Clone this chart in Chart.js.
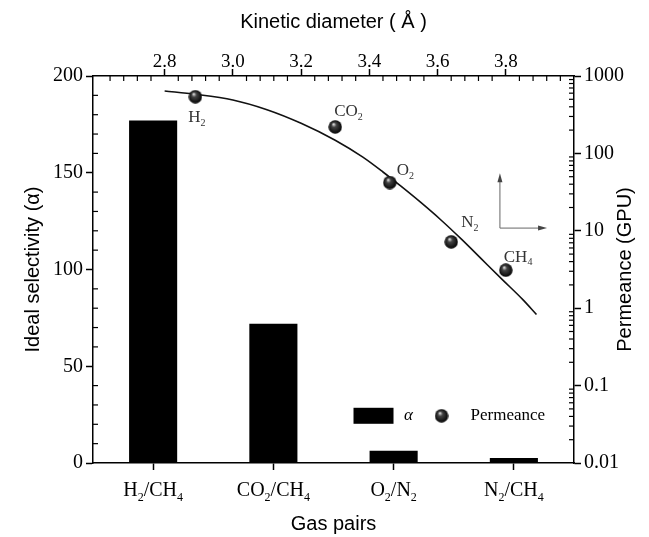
<!DOCTYPE html>
<html>
<head>
<meta charset="utf-8">
<script src="https://cdn.jsdelivr.net/npm/chart.js@4.4.1/dist/chart.umd.min.js"></script>
<style>
  html, body { margin: 0; padding: 0; background: #fff; }
</style>
</head>
<body>
<canvas id="chart" width="649" height="537"></canvas>
<script>
// bars: ideal selectivity per gas pair ("_2" = subscript 2)
const gasPairs = ["H_2/CH_4", "CO_2/CH_4", "O_2/N_2", "N_2/CH_4"];
const selectivity = [177, 72, 6.3, 2.6];

// spheres: permeance vs kinetic diameter
const gases = ["H_2", "CO_2", "O_2", "N_2", "CH_4"];
const kineticDiameter = [2.89, 3.30, 3.46, 3.64, 3.80];
const permeance = [540, 220, 42, 7.2, 3.1];

// trend line
const fitDiameter = [2.80, 2.89, 3.00, 3.10, 3.20, 3.30, 3.38, 3.44, 3.49, 3.55, 3.61, 3.67, 3.73, 3.79, 3.85, 3.89];
const fitPermeance = [640, 581, 490, 367, 245, 148, 90, 57.5, 38.5, 23.4, 13.8, 7.8, 4.27, 2.34, 1.29, 0.83];

const selectivityTicks = [0, 50, 100, 150, 200];
const diameterTicks = [2.8, 3.0, 3.2, 3.4, 3.6, 3.8];
const permeanceTicks = [0.01, 0.1, 1, 10, 100, 1000];

const serif = "Liberation Serif";
const sans = "Liberation Sans";
const tickFont = { family: serif, size: 20 };
const titleFont = { family: sans, size: 20 };

// label offsets around each sphere (px)
const labelOffsets = [[-7, 21], [-1, -15], [7, -12], [10, -19], [-2, -13]];

function makeSphere(r) {
  const c = document.createElement("canvas");
  c.width = c.height = r * 2;
  const g = c.getContext("2d");
  const grad = g.createRadialGradient(r * 0.75, r * 0.6, r * 0.05, r, r, r);
  grad.addColorStop(0, "#e0e0e0");
  grad.addColorStop(0.3, "#444");
  grad.addColorStop(1, "#000");
  g.fillStyle = grad;
  g.beginPath();
  g.arc(r, r, r - 0.3, 0, Math.PI * 2);
  g.fill();
  return c;
}
const sphere = makeSphere(7);

// text with "_x" subscripts
function drawChem(ctx, text, x, y, size, align) {
  const parts = [];
  for (let i = 0; i < text.length; i++) {
    if (text[i] === "_") {
      parts.push({ t: text[i + 1], sub: true });
      i++;
    } else {
      parts.push({ t: text[i], sub: false });
    }
  }
  const subSize = Math.round(size * 0.58);
  const fontOf = (p) => `${p.sub ? subSize : size}px "${serif}"`;
  let total = 0;
  parts.forEach((p) => {
    ctx.font = fontOf(p);
    total += ctx.measureText(p.t).width;
  });
  let cx = align === "center" ? x - total / 2 : x;
  ctx.textAlign = "left";
  ctx.textBaseline = "middle";
  parts.forEach((p) => {
    ctx.font = fontOf(p);
    ctx.fillText(p.t, cx, p.sub ? y + size * 0.32 : y);
    cx += ctx.measureText(p.t).width;
  });
}

function seg(ctx, x1, y1, x2, y2) {
  ctx.beginPath();
  ctx.moveTo(x1, y1);
  ctx.lineTo(x2, y2);
  ctx.stroke();
}

const extras = {
  id: "extras",
  afterDraw(chart) {
    const { ctx, chartArea: a, scales } = chart;
    ctx.save();

    // minor ticks, pointing inward
    ctx.strokeStyle = "#000";
    ctx.lineWidth = 1.2;
    const len = 5;
    for (let v = 10; v < 200; v += 10) {
      if (v % 50 === 0) continue;
      const y = scales.y.getPixelForValue(v);
      seg(ctx, a.left, y, a.left + len, y);
    }
    for (let k = 65; k <= 100; k++) {
      const v = k / 25;
      if (k % 5 === 0 || v < scales.x2.min || v > scales.x2.max) continue;
      const x = scales.x2.getPixelForValue(v);
      seg(ctx, x, a.top, x, a.top + len);
    }
    permeanceTicks.slice(0, -1).forEach((d) => {
      for (let m = 2; m <= 9; m++) {
        const y = scales.y2.getPixelForValue(d * m);
        seg(ctx, a.right, y, a.right - len, y);
      }
    });

    // category labels
    ctx.fillStyle = "#000";
    gasPairs.forEach((g, i) => {
      drawChem(ctx, g, scales.x.getPixelForValue(i), a.bottom + 28, 20, "center");
    });

    // right axis title
    ctx.save();
    ctx.translate(chart.width - 24, (a.top + a.bottom) / 2);
    ctx.rotate(-Math.PI / 2);
    ctx.font = `20px "${sans}"`;
    ctx.textAlign = "center";
    ctx.textBaseline = "middle";
    ctx.fillText("Permeance (GPU)", 0, 0);
    ctx.restore();

    // sphere labels
    ctx.fillStyle = "#333";
    gases.forEach((g, i) => {
      const x = scales.x2.getPixelForValue(kineticDiameter[i]);
      const y = scales.y2.getPixelForValue(permeance[i]);
      drawChem(ctx, g, x + labelOffsets[i][0], y + labelOffsets[i][1], 17, "left");
    });

    // axis-direction arrows
    const w = a.right - a.left, h = a.bottom - a.top;
    const ox = a.left + w * 0.846, oy = a.top + h * 0.393;
    const ty = a.top + h * 0.251, rx = a.left + w * 0.944;
    ctx.strokeStyle = "#666";
    ctx.fillStyle = "#444";
    ctx.lineWidth = 1;
    seg(ctx, ox, oy, ox, ty + 4);
    seg(ctx, ox, oy, rx - 4, oy);
    ctx.beginPath();
    ctx.moveTo(ox, ty); ctx.lineTo(ox - 2.5, ty + 9); ctx.lineTo(ox + 2.5, ty + 9);
    ctx.fill();
    ctx.beginPath();
    ctx.moveTo(rx, oy); ctx.lineTo(rx - 9, oy - 2.5); ctx.lineTo(rx - 9, oy + 2.5);
    ctx.fill();

    // legend
    const ly = a.top + h * 0.878;
    const lx = a.left + w * 0.5416;
    ctx.fillStyle = "#000";
    ctx.fillRect(lx, ly - 8, 40, 16);
    ctx.font = `italic 17px "${serif}"`;
    ctx.textAlign = "center";
    ctx.textBaseline = "middle";
    ctx.fillText("α", lx + 55, ly);
    ctx.drawImage(sphere, lx + 88 - 7, ly - 7);
    ctx.font = `17px "${serif}"`;
    ctx.textAlign = "left";
    ctx.fillText("Permeance", lx + 117, ly);

    ctx.restore();
  },
};

const axisGrid = { drawOnChartArea: false, tickLength: 7, tickColor: "#000", tickWidth: 1.5 };
const axisBorder = { color: "#000", width: 1.5 };

new Chart(document.getElementById("chart"), {
  data: {
    labels: gasPairs,
    datasets: [
      {
        type: "bar",
        label: "α",
        data: selectivity,
        backgroundColor: "#000",
        xAxisID: "x",
        yAxisID: "y",
        grouped: false,
        barPercentage: 0.4,
        categoryPercentage: 1,
        order: 3,
      },
      {
        type: "line",
        label: "fit",
        data: fitDiameter.map((d, i) => ({ x: d, y: fitPermeance[i] })),
        xAxisID: "x2",
        yAxisID: "y2",
        borderColor: "#111",
        borderWidth: 1.6,
        pointRadius: 0,
        cubicInterpolationMode: "monotone",
        order: 2,
      },
      {
        type: "scatter",
        label: "Permeance",
        data: kineticDiameter.map((d, i) => ({ x: d, y: permeance[i] })),
        xAxisID: "x2",
        yAxisID: "y2",
        pointStyle: sphere,
        order: 1,
      },
    ],
  },
  options: {
    responsive: false,
    animation: false,
    layout: { padding: 0 },
    plugins: { legend: { display: false }, tooltip: { enabled: false } },
    scales: {
      x: {
        type: "category",
        position: "bottom",
        offset: true,
        grid: { ...axisGrid, offset: false },
        border: axisBorder,
        ticks: { display: false },
        title: { display: true, text: "Gas pairs", font: titleFont, color: "#000", padding: { bottom: 1 } },
        afterFit: (s) => { s.height = 74; },
      },
      y: {
        type: "linear",
        position: "left",
        min: 0,
        max: 200,
        afterBuildTicks: (s) => { s.ticks = selectivityTicks.map((v) => ({ value: v })); },
        grid: axisGrid,
        border: axisBorder,
        ticks: { font: tickFont, color: "#000", padding: 3 },
        title: { display: true, text: "Ideal selectivity (α)", font: titleFont, color: "#000", padding: { top: 21 } },
        afterFit: (s) => { s.width = 93; },
      },
      y2: {
        type: "logarithmic",
        position: "right",
        min: 0.01,
        max: 1000,
        afterBuildTicks: (s) => { s.ticks = permeanceTicks.map((v) => ({ value: v })); },
        grid: axisGrid,
        border: axisBorder,
        ticks: { font: tickFont, color: "#000", padding: 3, callback: (v) => String(v) },
        afterFit: (s) => { s.width = 75; },
      },
      x2: {
        type: "linear",
        position: "top",
        min: 2.59,
        max: 4.0,
        afterBuildTicks: (s) => { s.ticks = diameterTicks.map((v) => ({ value: v })); },
        grid: axisGrid,
        border: axisBorder,
        ticks: { font: { family: serif, size: 19 }, color: "#000", padding: -4, maxRotation: 0, callback: (v) => v.toFixed(1) },
        title: { display: true, text: "Kinetic diameter ( Å )", font: titleFont, color: "#000", padding: { top: 10 } },
        afterFit: (s) => { s.height = 76; },
      },
    },
  },
  plugins: [extras],
});
</script>
</body>
</html>
